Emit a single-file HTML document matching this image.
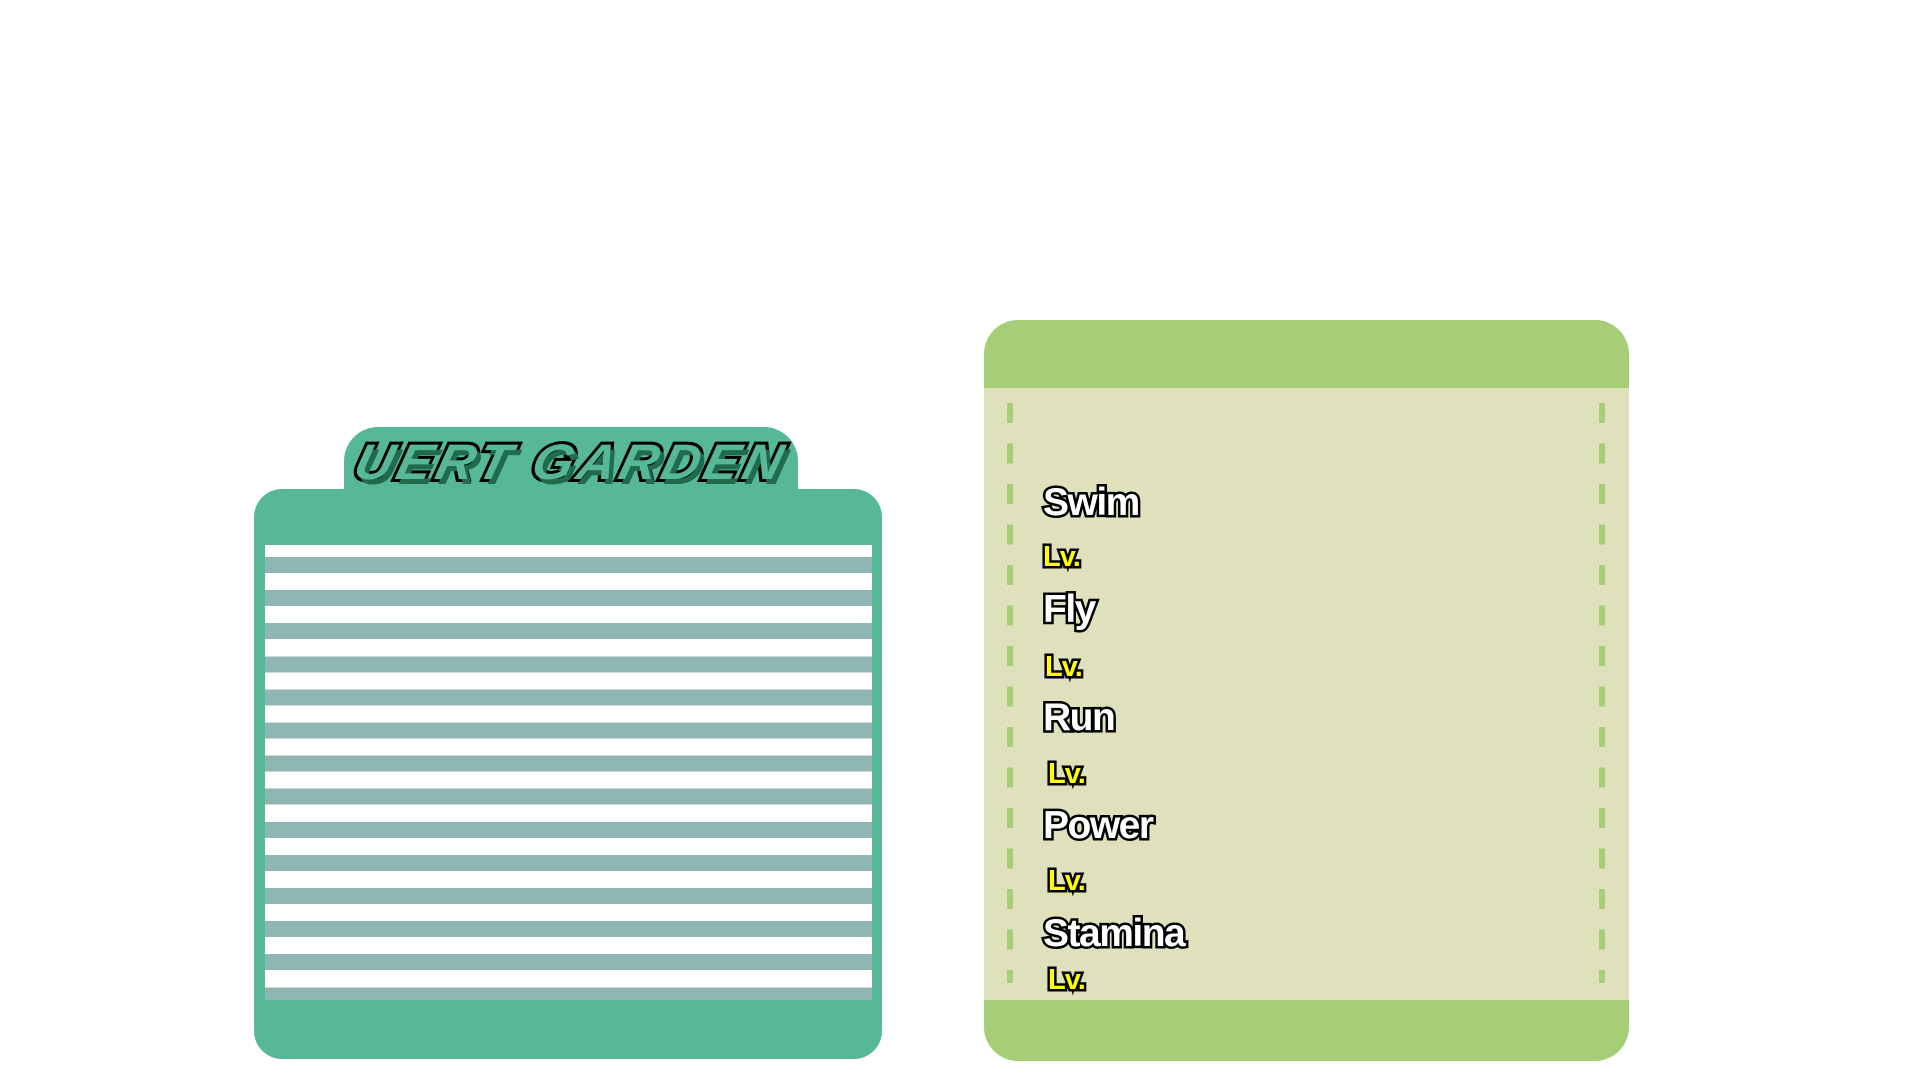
<!DOCTYPE html>
<html><head><meta charset="utf-8"><style>
html,body{margin:0;padding:0;}
body{width:1920px;height:1080px;background:#fff;position:relative;overflow:hidden;font-family:"Liberation Sans",sans-serif;}
.abs{position:absolute;}
#tab{left:344px;top:427px;width:454px;height:90px;background:#57b898;border-radius:34px 34px 0 0;}
#lp{left:254px;top:489px;width:628px;height:570px;background:#57b898;border-radius:28px;}
#stripes{left:265px;top:545px;width:607px;height:455px;background:repeating-linear-gradient(to bottom,#fff 0px,#fff 12px,#90b6b3 12px,#90b6b3 28px,#fff 28px,#fff 33.1px);}
#title{left:344px;top:434px;width:454px;text-align:center;font-weight:bold;font-style:italic;font-size:50px;letter-spacing:4px;color:#57b898;-webkit-text-stroke:6px #000;paint-order:stroke fill;text-shadow:5px 5px 0 #1f6b4c;transform:skewX(-14deg) scaleX(1.05);line-height:56px;}
#rp{left:984px;top:320px;width:645px;height:741px;background:#dfe1bc;border-radius:34px;overflow:hidden;}
#rh{left:0;top:0;width:645px;height:68px;background:#a6ce77;}
#rf{left:0;top:680px;width:645px;height:61px;background:#a6ce77;}
.dash{width:6px;top:403px;height:580px;background:repeating-linear-gradient(to bottom,#a6ce77 0,#a6ce77 20px,transparent 20px,transparent 40.5px);}
.t{font-weight:bold;color:#fff;-webkit-text-stroke:5px #000;paint-order:stroke fill;letter-spacing:-1.5px;line-height:1;}
.big{font-size:39px;}
.lv{font-size:29px;color:#ffff00;letter-spacing:-1px;}
</style></head><body>
<div class="abs" id="tab"></div>
<div class="abs" id="lp"></div>
<div class="abs" id="stripes"></div>
<div class="abs" id="title">UERT GARDEN</div>
<div class="abs" id="rp"><div class="abs" id="rh"></div><div class="abs" id="rf"></div></div>
<div class="abs dash" style="left:1007px"></div>
<div class="abs dash" style="left:1599px"></div>
<div class="abs t big" style="left:1043px;top:483px">Swim</div>
<div class="abs t lv" style="left:1043px;top:543px">Lv.</div>
<div class="abs t big" style="left:1043px;top:590px">Fly</div>
<div class="abs t lv" style="left:1045px;top:653px">Lv.</div>
<div class="abs t big" style="left:1043px;top:698px">Run</div>
<div class="abs t lv" style="left:1048px;top:760px">Lv.</div>
<div class="abs t big" style="left:1043px;top:806px">Power</div>
<div class="abs t lv" style="left:1048px;top:867px">Lv.</div>
<div class="abs t big" style="left:1043px;top:914px">Stamina</div>
<div class="abs t lv" style="left:1048px;top:966px">Lv.</div>
</body></html>
